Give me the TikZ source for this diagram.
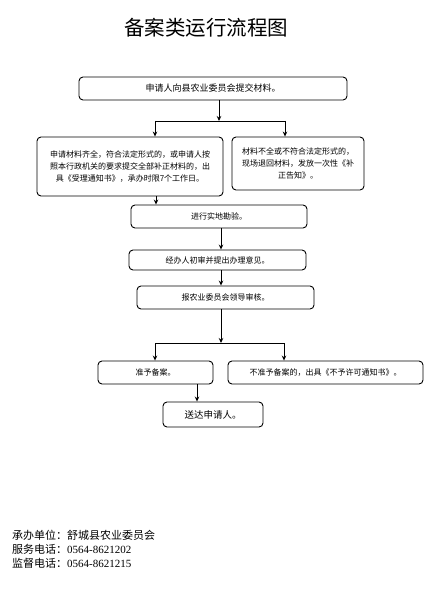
\documentclass[tikz,border=0pt]{standalone}
\usepackage{fontspec}
\setmainfont{Liberation Serif}
\newfontfamily\cjk{Noto Sans CJK SC}
\usetikzlibrary{arrows.meta}
\begin{document}
\begin{tikzpicture}[x=1pt,y=-1pt,
  box/.style={draw,line width=0.9pt,rounded corners=4pt,inner sep=0pt,align=center,font=\cjk\fontsize{8}{12}\selectfont},
  arr/.style={line width=0.9pt,-{Stealth[length=5pt,width=4.5pt]}},
  ln/.style={line width=0.9pt}]
\useasboundingbox (0,0) rectangle (431,591);
\node[font=\cjk\fontsize{20.5}{24}\selectfont] (title) at (206,28) {备案类运行流程图};
\node[box,minimum width=268,minimum height=23,font=\cjk\fontsize{9}{11}\selectfont] (b1) at (213,88.5) {申请人向县农业委员会提交材料。};
\node[box,minimum width=186,minimum height=59] (bl) at (130,166.5) {申请材料齐全，符合法定形式的，或申请人按\\照本行政机关的要求提交全部补正材料的，出\\具《受理通知书》，承办时限7个工作日。};
\node[box,minimum width=132,minimum height=53] (br) at (298,163.5) {材料不全或不符合法定形式的，\\现场退回材料，发放一次性《补\\正告知》。};
\node[box,minimum width=176,minimum height=23] (b4) at (219,216.5) {进行实地勘验。};
\node[box,minimum width=177,minimum height=20] (b5) at (217.5,260) {经办人初审并提出办理意见。};
\node[box,minimum width=177,minimum height=23] (b6) at (225.5,297.5) {报农业委员会领导审核。};
\node[box,minimum width=115,minimum height=23] (b7) at (155.5,372.5) {准予备案。};
\node[box,minimum width=195,minimum height=23] (b8) at (325.5,372.5) {不准予备案的，出具《不予许可通知书》。};
\node[box,minimum width=100,minimum height=25,font=\cjk\fontsize{9.5}{12}\selectfont] (b9) at (213,414.5) {送达申请人。};
% branch 1
\coordinate (j1) at (219,121);
\coordinate (j1l) at (155,121);
\coordinate (j1r) at (285,121);
\draw[arr] (b1.south -| j1) -- (j1);
\draw[ln] (j1l) -- (j1r);
\draw[arr] (j1l) -- (bl.north -| j1l);
\draw[arr] (j1r) -- (br.north -| j1r);
\coordinate (c1) at (156,200);
\draw[arr] (bl.south -| c1) -- (b4.north -| c1);
\coordinate (c2) at (221,240);
\draw[arr] (b4.south -| c2) -- (b5.north -| c2);
\draw[arr] (b5.south -| c2) -- (b6.north -| c2);
% branch 2
\coordinate (j2) at (221,343);
\coordinate (j2l) at (155,343);
\coordinate (j2r) at (284,343);
\draw[arr] (b6.south -| j2) -- (j2);
\draw[ln] (j2l) -- (j2r);
\draw[arr] (j2l) -- (b7.north -| j2l);
\draw[arr] (j2r) -- (b8.north -| j2r);
\coordinate (c3) at (197,390);
\draw[arr] (b7.south -| c3) -- (b9.north -| c3);
% footer
\node[anchor=west,inner sep=0pt,font=\fontsize{11}{12}\selectfont] (f1) at (12,535) {\cjk 承办单位：舒城县农业委员会};
\node[anchor=west,inner sep=0pt,font=\fontsize{11}{12}\selectfont] (f2) at (12,549) {{\cjk 服务电话：}0564-8621202};
\node[anchor=west,inner sep=0pt,font=\fontsize{11}{12}\selectfont] (f3) at (12,563) {{\cjk 监督电话：}0564-8621215};
\end{tikzpicture}
\end{document}
